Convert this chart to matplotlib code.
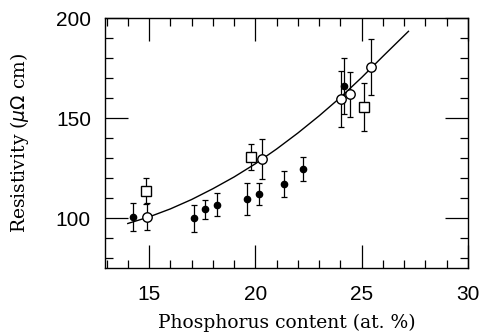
import numpy as np
import matplotlib
matplotlib.use("Agg")
import matplotlib.pyplot as plt
from matplotlib.ticker import MultipleLocator

# filled circles
fx = [14.26, 17.10, 17.63, 18.20, 19.62, 20.16, 21.36, 22.24, 24.15]
fy = [100.5, 100.0, 104.5, 106.8, 109.5, 112.2, 117.3, 124.8, 166.2]
fe = [7.0, 6.7, 4.7, 5.8, 8.0, 5.4, 6.5, 6.0, 14.0]

# open circles
cx = [14.92, 20.33, 24.04, 24.44, 25.45]
cy = [100.8, 129.8, 159.8, 162.0, 175.5]
ce = [6.7, 10.0, 14.0, 11.3, 14.0]

# open squares
sx = [14.87, 19.80, 25.13]
sy = [113.7, 130.5, 155.8]
se = [6.5, 6.5, 12.0]

# fitted curve
lx = [14.0, 15.0, 16.0, 17.0, 18.0, 19.0, 20.0, 21.0, 22.0, 23.0, 24.0, 25.0, 26.0, 27.2]
ly = [97.3, 100.6, 104.6, 109.3, 114.7, 120.6, 127.2, 134.6, 142.6, 151.2, 160.4, 170.4, 181.0, 193.5]

fig = plt.figure(figsize=(4.83, 3.33), dpi=100)
ax = fig.add_axes([0.217, 0.195, 0.752, 0.750])

ax.plot(lx, ly, 'k-', lw=1.0, zorder=2)

eb = dict(fmt='none', ecolor='k', elinewidth=0.9, capsize=2.5, capthick=0.9, zorder=1)
ax.errorbar(fx, fy, yerr=fe, **eb)
ax.errorbar(cx, cy, yerr=ce, **eb)
ax.errorbar(sx, sy, yerr=se, **eb)

ax.plot(fx, fy, 'o', ms=4.5, mfc='k', mec='k', zorder=3)
ax.plot(cx, cy, 'o', ms=6.8, mfc='white', mec='k', mew=1.0, zorder=3)
ax.plot(sx, sy, 's', ms=7.5, mfc='white', mec='k', mew=1.0, zorder=3)

ax.set_xlim(12.92, 30.0)
ax.set_ylim(75, 200)
ax.xaxis.set_major_locator(MultipleLocator(5))
ax.xaxis.set_minor_locator(MultipleLocator(1))
ax.yaxis.set_major_locator(MultipleLocator(50))
ax.yaxis.set_minor_locator(MultipleLocator(10))
ax.tick_params(which='both', direction='in', top=True, right=True, width=0.9, color='k')
ax.tick_params(which='major', length=16.5)
ax.tick_params(axis='x', which='major', pad=12)
ax.tick_params(axis='y', which='major', pad=10)
ax.tick_params(which='minor', length=5.8)
for s in ax.spines.values():
    s.set_linewidth(1.0)

for lab in ax.get_xticklabels() + ax.get_yticklabels():
    lab.set_fontfamily('Liberation Sans')
    lab.set_fontsize(15)

ax.set_xlabel('Phosphorus content (at. %)', family='DejaVu Serif', fontsize=13.5, labelpad=7)
ax.set_ylabel(r'Resistivity ($\mu\Omega$ cm)', family='DejaVu Serif', fontsize=13.5, labelpad=18)

fig.savefig('out.png', dpi=100)
